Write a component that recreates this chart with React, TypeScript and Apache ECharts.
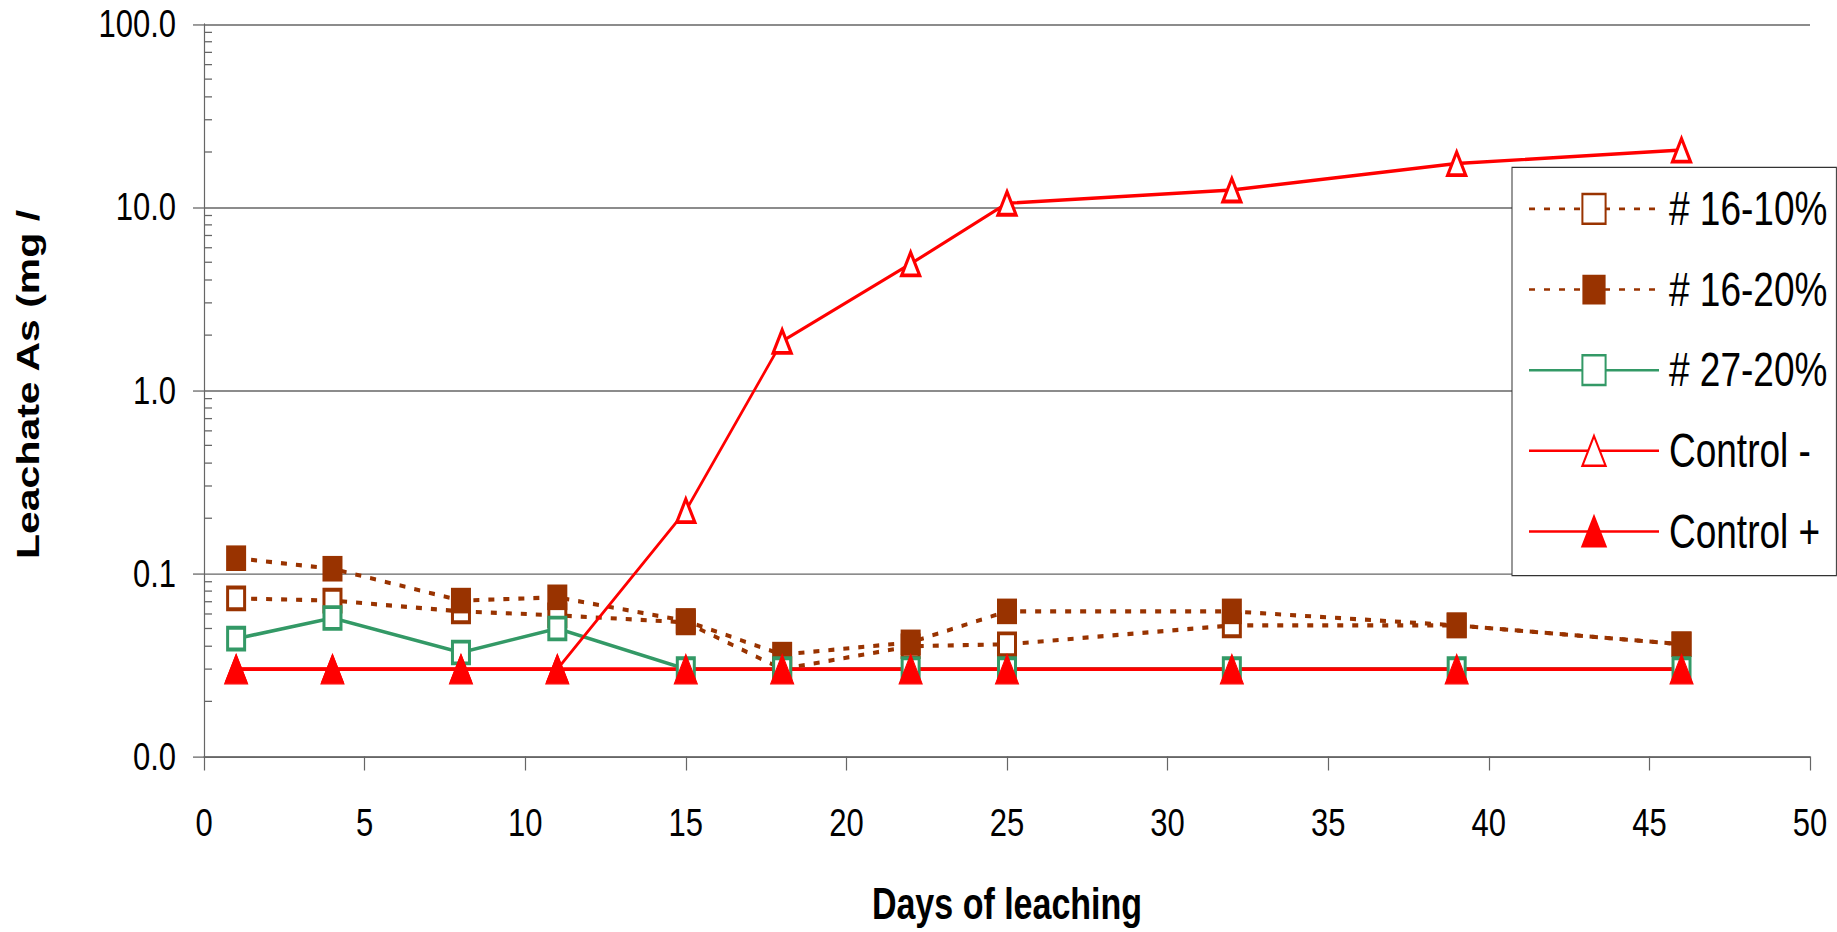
import React, { useEffect, useRef } from "react";
import * as echarts from "echarts";

// Leaching days sampled
const DAYS = [1, 4, 8, 11, 15, 18, 22, 25, 32, 39, 46];

// Leachate As concentrations per treatment
const S16_10 = [0.073, 0.071, 0.062, 0.059, 0.054, 0.03, 0.04, 0.041, 0.052, 0.052, 0.041];
const S16_20 = [0.121, 0.106, 0.071, 0.074, 0.055, 0.036, 0.042, 0.062, 0.062, 0.052, 0.041];
const S27_20 = [0.044, 0.057, 0.037, 0.05, 0.03, 0.03, 0.03, 0.03, 0.03, 0.03, 0.03];
const CONTROL_MINUS = [0.03, 0.03, 0.03, 0.03, 0.22, 1.85, 4.9, 10.5, 12.4, 17.3, 20.5];
const CONTROL_PLUS = [0.03, 0.03, 0.03, 0.03, 0.03, 0.03, 0.03, 0.03, 0.03, 0.03, 0.03];

const SERIES_NAMES = ["# 16-10%", "# 16-20%", "# 27-20%", "Control -", "Control +"];

// Axis ranges
const X_MIN = 0;
const X_MAX = 50;
const X_STEP = 5;
const Y_MIN = 0.01;
const Y_MAX = 100;
// Minor log ticks between decades
const Y_MINOR = [
  0.02, 0.03, 0.04, 0.05, 0.06, 0.07, 0.08, 0.09,
  0.2, 0.3, 0.4, 0.5, 0.6, 0.7, 0.8, 0.9,
  2, 3, 4, 5, 6, 7, 8, 9,
  20, 30, 40, 50, 60, 70, 80, 90,
];

const BROWN = "#993300";
const GREEN = "#339966";
const RED = "#ff0000";
const AXIS = "#666666";
const FONT = "'Liberation Sans', Arial, Helvetica, sans-serif";

// The figure is laid out at this height and stretched vertically to fill the page
const STRETCH = 1.28;
const W = 1837;
const H = 932 / STRETCH;

const pairs = (ys: number[]) => DAYS.map((d, i) => [d, ys[i]]);

export default function App() {
  const ref = useRef<HTMLDivElement>(null);

  useEffect(() => {
    if (!ref.current) return;
    const chart = echarts.init(ref.current, undefined, { renderer: "svg" });

    const dotted = { type: [6, 9] as number[], width: 3.2, color: BROWN };

    chart.setOption({
      animation: false,
      backgroundColor: "#ffffff",
      textStyle: { fontFamily: FONT, color: "#000" },
      grid: { left: 204, right: 27, top: 18.75, bottom: H - 593, containLabel: false },
      legend: {
        data: SERIES_NAMES,
        orient: "vertical",
        left: 1512,
        top: 130.7,
        padding: [14, 9, 16, 16],
        itemGap: 26,
        itemWidth: 130,
        itemHeight: 29,
        borderColor: "#333",
        borderWidth: 1,
        backgroundColor: "#fff",
        textStyle: { fontSize: 37, color: "#000", fontFamily: FONT, padding: [0, 0, 0, 5] },
      },
      xAxis: {
        type: "value",
        min: X_MIN,
        max: X_MAX,
        interval: X_STEP,
        name: "Days of leaching",
        nameLocation: "middle",
        nameGap: 98,
        nameTextStyle: { fontSize: 34, fontWeight: "bold", color: "#000", fontFamily: FONT },
        axisLine: { show: true, lineStyle: { color: AXIS, width: 1.2 } },
        axisTick: { show: true, length: 11, lineStyle: { color: AXIS, width: 1.2 } },
        axisLabel: { fontSize: 31, color: "#000", margin: 36, fontFamily: FONT },
        splitLine: { show: false },
      },
      yAxis: {
        type: "log",
        logBase: 10,
        min: Y_MIN,
        max: Y_MAX,
        name: "Leachate As (mg /",
        nameLocation: "middle",
        nameRotate: 90,
        nameGap: 160,
        nameTextStyle: {
          fontSize: 32,
          fontWeight: "bold",
          color: "#000",
          fontFamily: FONT,
          padding: [0, 0, 0, 9],
        },
        axisLine: { show: true, lineStyle: { color: AXIS, width: 1.2 } },
        axisTick: { show: true, length: 11, lineStyle: { color: AXIS, width: 1 } },
        axisLabel: {
          fontSize: 31,
          color: "#000",
          margin: 28,
          fontFamily: FONT,
          formatter: (v: number) => v.toFixed(1),
        },
        splitLine: { show: true, lineStyle: { color: AXIS, width: 1.1 } },
      },
      series: [
        {
          type: "custom",
          name: "minorTicks",
          silent: true,
          clip: false,
          z: 1,
          data: Y_MINOR.map((v) => [X_MIN, v]),
          renderItem: (_params: any, api: any) => {
            const p = api.coord([api.value(0), api.value(1)]);
            return {
              type: "line",
              shape: { x1: p[0], y1: p[1], x2: p[0] + 8, y2: p[1] },
              style: { stroke: AXIS, lineWidth: 1 },
            };
          },
        },
        {
          name: SERIES_NAMES[0],
          type: "line",
          data: pairs(S16_10),
          symbol: "rect",
          symbolSize: 17,
          lineStyle: dotted,
          itemStyle: { color: "#ffffff", borderColor: BROWN, borderWidth: 3 },
        },
        {
          name: SERIES_NAMES[1],
          type: "line",
          data: pairs(S16_20),
          symbol: "rect",
          symbolSize: 20,
          lineStyle: dotted,
          itemStyle: { color: BROWN, borderColor: BROWN, borderWidth: 0 },
        },
        {
          name: SERIES_NAMES[2],
          type: "line",
          data: pairs(S27_20),
          symbol: "rect",
          symbolSize: 17,
          lineStyle: { color: GREEN, width: 2.8 },
          itemStyle: { color: "#ffffff", borderColor: GREEN, borderWidth: 3 },
        },
        {
          name: SERIES_NAMES[3],
          type: "line",
          data: pairs(CONTROL_MINUS),
          symbol: "triangle",
          symbolSize: 18,
          lineStyle: { color: RED, width: 2.6 },
          itemStyle: { color: "#ffffff", borderColor: RED, borderWidth: 3 },
        },
        {
          name: SERIES_NAMES[4],
          type: "line",
          data: pairs(CONTROL_PLUS),
          symbol: "triangle",
          symbolSize: 23,
          lineStyle: { color: RED, width: 2.8 },
          itemStyle: { color: RED, borderColor: RED, borderWidth: 1 },
        },
      ],
    });

    return () => chart.dispose();
  }, []);

  return (
    <div
      style={{
        position: "fixed",
        left: 0,
        top: 0,
        width: W,
        height: 932,
        overflow: "hidden",
        background: "#fff",
      }}
    >
      <div
        ref={ref}
        style={{
          width: W,
          height: H,
          transform: `scaleY(${STRETCH})`,
          transformOrigin: "0 0",
        }}
      />
    </div>
  );
}
